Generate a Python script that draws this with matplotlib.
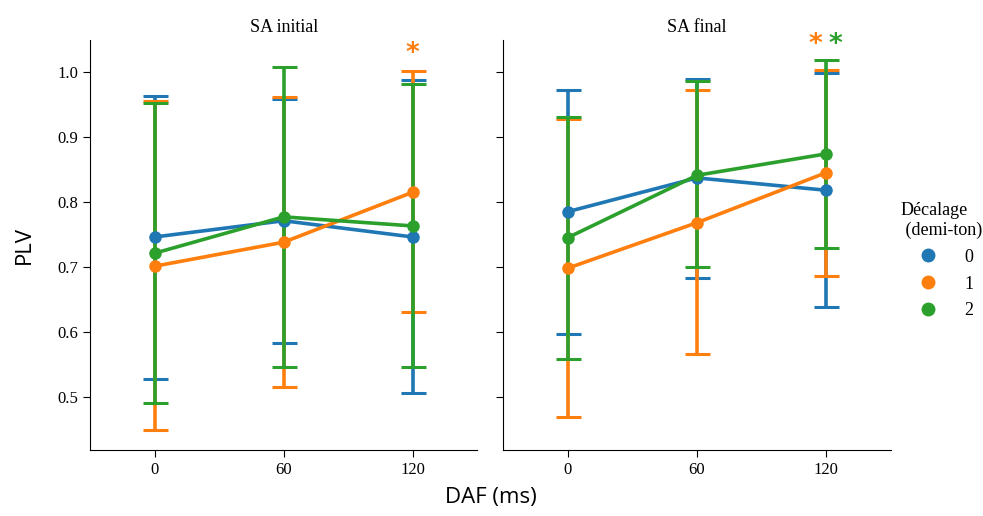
import numpy as np
import matplotlib.pyplot as plt
from matplotlib.lines import Line2D

# categories and series values
daf = ["0", "60", "120"]
shifts = ["0", "1", "2"]
colors = ["#1f77b4", "#ff7f0e", "#2ca02c"]

# SA initial
init_mean = [[0.746, 0.771, 0.746],
             [0.701, 0.738, 0.815],
             [0.721, 0.777, 0.763]]
init_lo = [[0.528, 0.583, 0.505],
           [0.448, 0.515, 0.631],
           [0.491, 0.546, 0.545]]
init_hi = [[0.963, 0.959, 0.988],
           [0.955, 0.962, 1.002],
           [0.952, 1.008, 0.982]]

# SA final
final_mean = [[0.785, 0.837, 0.818],
              [0.698, 0.768, 0.845],
              [0.745, 0.841, 0.874]]
final_lo = [[0.597, 0.683, 0.638],
            [0.469, 0.566, 0.686],
            [0.558, 0.700, 0.729]]
final_hi = [[0.972, 0.989, 0.998],
            [0.927, 0.972, 1.003],
            [0.931, 0.986, 1.019]]

serif = "Liberation Serif"
sans = "Open Sans"

fig = plt.figure(figsize=(9.83, 5.16), dpi=100)
ax1 = fig.add_axes([0.0916, 0.128, 0.394, 0.794])
ax2 = fig.add_axes([0.512, 0.128, 0.394, 0.794], sharey=ax1)

x = np.arange(len(daf))


def draw_panel(ax, mean, lo, hi, title):
    for i in range(len(shifts)):
        m = np.array(mean[i])
        err = np.vstack([m - np.array(lo[i]), np.array(hi[i]) - m])
        ax.errorbar(x, m, yerr=err, color=colors[i], lw=2.6, marker="o",
                    ms=8, capsize=9, capthick=2.2, elinewidth=2.6)
    ax.set_xlim(-0.5, 2.5)
    ax.set_xticks(x)
    ax.set_xticklabels(daf, fontfamily=serif, fontsize=12)
    ax.set_title(title, fontfamily=serif, fontsize=13)
    for s in ["top", "right"]:
        ax.spines[s].set_visible(False)
    ax.tick_params(length=5)


draw_panel(ax1, init_mean, init_lo, init_hi, "SA initial")
draw_panel(ax2, final_mean, final_lo, final_hi, "SA final")

ax1.set_ylim(0.418, 1.049)
ax1.set_yticks([0.5, 0.6, 0.7, 0.8, 0.9, 1.0])
ax1.set_yticklabels(["0.5", "0.6", "0.7", "0.8", "0.9", "1.0"],
                    fontfamily=serif, fontsize=12)
plt.setp(ax2.get_yticklabels(), visible=False)

# significance stars
ax1.text(2, 1.008, "*", color=colors[1], fontsize=19, ha="center",
         va="bottom", fontweight="bold")
ax2.text(1.92, 1.022, "*", color=colors[1], fontsize=19, ha="center",
         va="bottom", fontweight="bold")
ax2.text(2.07, 1.022, "*", color=colors[2], fontsize=19, ha="center",
         va="bottom", fontweight="bold")

fig.text(0.025, 0.525, "PLV", rotation=90, fontfamily=sans, fontsize=16,
         ha="center", va="center")
fig.text(0.499, 0.015, "DAF (ms)", fontfamily=sans, fontsize=16,
         ha="center", va="bottom")

handles = [Line2D([], [], ls="", marker="o", ms=9, color=c) for c in colors]
leg = fig.legend(handles, shifts, title="Décalage\n (demi-ton)",
                 loc="center left", bbox_to_anchor=(0.9, 0.495),
                 frameon=False, prop={"family": serif, "size": 13},
                 handletextpad=1.0, labelspacing=0.55)
leg.get_title().set_fontfamily(serif)
leg.get_title().set_fontsize(13)

fig.savefig("out.png", dpi=100)
